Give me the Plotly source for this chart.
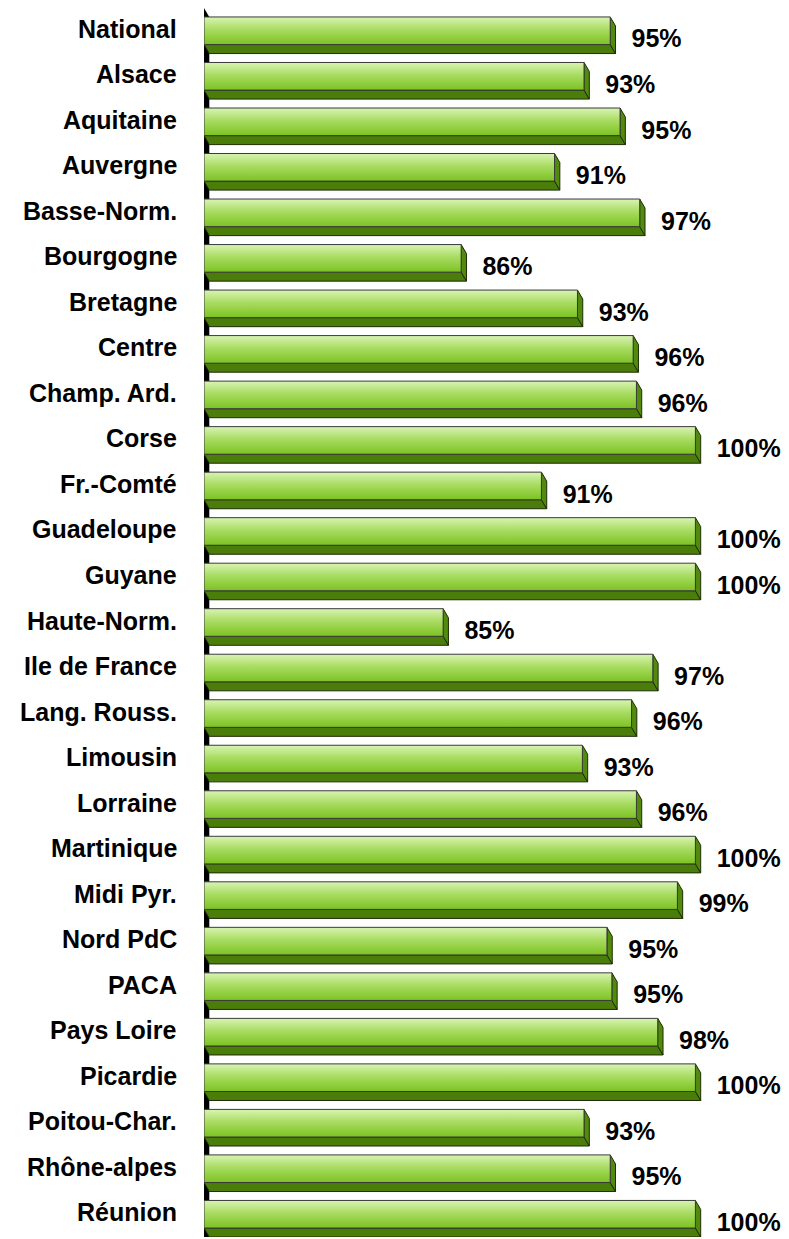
import plotly.graph_objects as go

categories = ["National", "Alsace", "Aquitaine", "Auvergne", "Basse-Norm.", "Bourgogne",
              "Bretagne", "Centre", "Champ. Ard.", "Corse", "Fr.-Comté", "Guadeloupe",
              "Guyane", "Haute-Norm.", "Ile de France", "Lang. Rouss.", "Limousin",
              "Lorraine", "Martinique", "Midi Pyr.", "Nord PdC", "PACA", "Pays Loire",
              "Picardie", "Poitou-Char.", "Rhône-alpes", "Réunion"]
values = [94.8, 93.2, 95.4, 91.4, 96.6, 85.7, 92.8, 96.2, 96.4, 100, 90.6, 100,
          100, 84.6, 97.4, 96.1, 93.1, 96.4, 100, 98.9, 94.6, 94.9, 97.7, 100,
          93.2, 94.8, 100]
labels = ["95%", "93%", "95%", "91%", "97%", "86%", "93%", "96%", "96%", "100%", "91%",
          "100%", "100%", "85%", "97%", "96%", "93%", "96%", "100%", "99%", "95%", "95%",
          "98%", "100%", "93%", "95%", "100%"]

X_MIN = 70.0
W, H = 789, 1239
ML, MR, MT, MB = 204, 0, 8, 2
PX_PER_PCT = 16.38
X_MAX = X_MIN + (W - ML - MR) / PX_PER_PCT
n = len(categories)
px_per_cat = (H - MT - MB) / n

DX = 5.3 / PX_PER_PCT      # depth offset, horizontal (data units)
DY = 9.0 / px_per_cat      # depth offset, vertical (data units)
HALF = 13.8 / px_per_cat   # half height of the front face

FONT = "Arial, Liberation Sans, sans-serif"

fig = go.Figure()

# black side wall
fig.add_trace(go.Scatter(
    x=[X_MIN, X_MIN + DX, X_MIN + DX, X_MIN, X_MIN],
    y=[-0.5, -0.5 + DY, n - 0.5 + DY, n - 0.5, -0.5],
    fill="toself", fillcolor="black", mode="lines",
    line=dict(color="black", width=0), hoverinfo="skip", showlegend=False))

# depth faces (bottom and right side)
bx, by, rx, ry = [], [], [], []
for i, v in enumerate(values):
    bx += [X_MIN, v, v + DX, X_MIN + DX, X_MIN, None]
    by += [i + HALF, i + HALF, i + HALF + DY, i + HALF + DY, i + HALF, None]
    rx += [v, v + DX, v + DX, v, v, None]
    ry += [i - HALF, i - HALF + DY, i + HALF + DY, i + HALF, i - HALF, None]
fig.add_trace(go.Scatter(x=bx, y=by, fill="toself", fillcolor="#4b7d0a", mode="lines",
                         line=dict(color="#1e2d05", width=1), hoverinfo="skip",
                         showlegend=False))
fig.add_trace(go.Scatter(x=rx, y=ry, fill="toself", fillcolor="#518a0c", mode="lines",
                         line=dict(color="#1e2d05", width=1), hoverinfo="skip",
                         showlegend=False))

# front faces with vertical gradient
for i, v in enumerate(values):
    fig.add_trace(go.Scatter(
        x=[X_MIN, v, v, X_MIN, X_MIN],
        y=[i - HALF, i - HALF, i + HALF, i + HALF, i - HALF],
        fill="toself", mode="lines",
        fillgradient=dict(type="vertical",
                          colorscale=[[0, "#d9f4b4"], [0.45, "#a9dc62"], [1, "#7cc222"]],
                          start=i - HALF, stop=i + HALF),
        line=dict(color="#3a3a3a", width=1), hoverinfo="skip", showlegend=False))

# value labels
fig.add_trace(go.Scatter(
    x=[v + 1.3 for v in values], y=[i + 0.23 for i in range(n)],
    text=labels, mode="text", textposition="middle right",
    textfont=dict(family=FONT, size=25, color="black", weight="bold"),
    cliponaxis=False, hoverinfo="skip", showlegend=False))

# category labels
for i, c in enumerate(categories):
    fig.add_annotation(x=0, xref="paper", y=i, yref="y", text="<b>%s</b>" % c,
                       xanchor="right", yanchor="middle", xshift=-25, yshift=2,
                       showarrow=False, font=dict(family=FONT, size=25, color="black"))

fig.update_layout(
    width=W, height=H,
    margin=dict(l=ML, r=MR, t=MT, b=MB, pad=0),
    paper_bgcolor="white", plot_bgcolor="white",
    xaxis=dict(range=[X_MIN, X_MAX], visible=False, fixedrange=True),
    yaxis=dict(range=[n - 0.5, -0.5], visible=False, fixedrange=True),
)

fig.write_html("out.html", config={"displayModeBar": False},
               post_script="document.body.style.margin='0';")
